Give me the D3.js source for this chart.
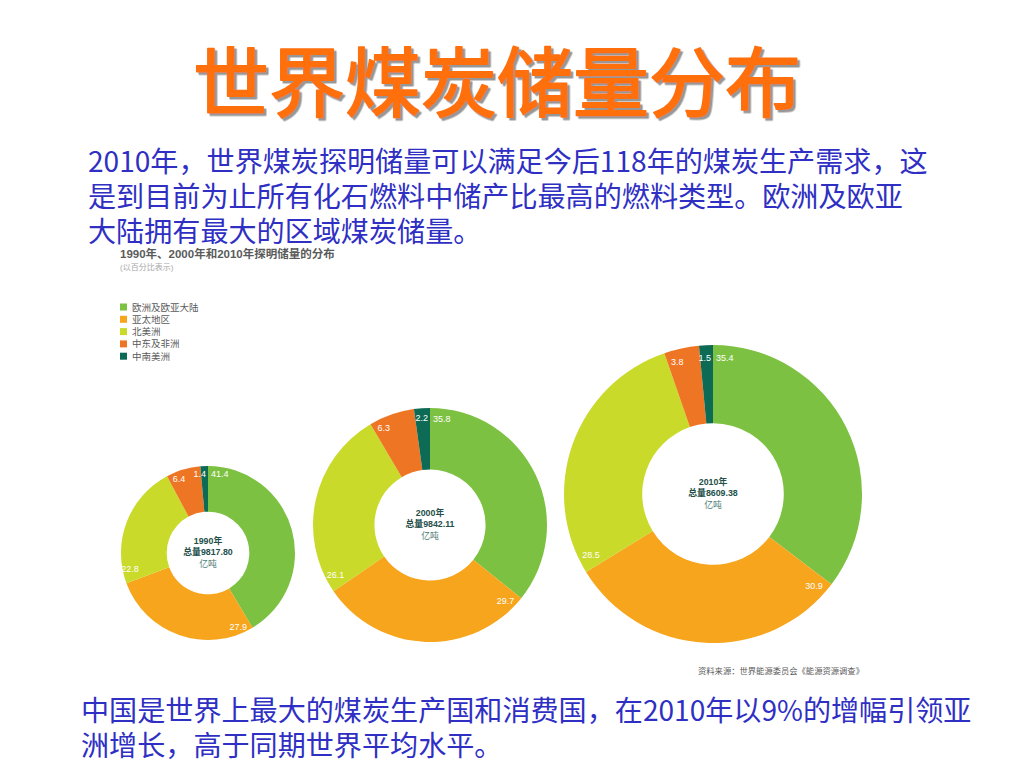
<!DOCTYPE html>
<html>
<head>
<meta charset="utf-8">
<script src="https://d3js.org/d3.v7.min.js"></script>
<style>
    body { margin: 0; background: #ffffff; }
    svg text { font-family: "Liberation Sans", "Noto Sans CJK SC", sans-serif; }
</style>
</head>
<body>
<svg id="canvas" width="1024" height="768"></svg>
<script>
    const svg = d3.select('#canvas');
    const CJK = '"Noto Sans CJK SC", sans-serif';

    //data (percent share per region)
    const regions = ['欧洲及欧亚大陆', '亚太地区', '北美洲', '中东及非洲', '中南美洲'];
    const regionColors = ['#7dc142', '#f7a51d', '#c9da2a', '#ee7523', '#0d6b55'];
    const years = ['1990年', '2000年', '2010年'];
    const totals = ['9817.80', '9842.11', '8609.38'];
    const share1990 = [41.4, 27.9, 22.8, 6.4, 1.4];
    const share2000 = [35.8, 29.7, 26.1, 6.3, 2.2];
    const share2010 = [35.4, 30.9, 28.5, 3.8, 1.5];
    const shares = [share1990, share2000, share2010];

    const introLines = [
        '2010年，世界煤炭探明储量可以满足今后118年的煤炭生产需求，这',
        '是到目前为止所有化石燃料中储产比最高的燃料类型。欧洲及欧亚',
        '大陆拥有最大的区域煤炭储量。'
    ];
    const outroLines = [
        '中国是世界上最大的煤炭生产国和消费国，在2010年以9%的增幅引领亚',
        '洲增长，高于同期世界平均水平。'
    ];

    //layout of the three rings (centre x/y, outer radius)
    const rings = [
        { cx: 208, cy: 553, r: 87 },
        { cx: 430, cy: 525, r: 117 },
        { cx: 713, cy: 494, r: 149 }
    ];
    const HOLE = 0.475;

    //drop shadow for the title
    const defs = svg.append('defs');
    defs.append('filter')
        .attr('id', 'shadow')
        .attr('x', '-5%').attr('y', '-10%').attr('width', '110%').attr('height', '130%')
        .append('feDropShadow')
        .attr('dx', 2.5).attr('dy', 2.5).attr('stdDeviation', 0.6)
        .attr('flood-color', '#8c8c8c').attr('flood-opacity', 0.9);

    svg.append('text')
        .attr('x', 497).attr('y', 78)
        .attr('text-anchor', 'middle').attr('dominant-baseline', 'central')
        .style('font-family', CJK).style('font-weight', 400).style('font-size', '76px')
        .attr('fill', '#ff7011')
        .attr('stroke', '#ff7011').attr('stroke-width', 1.8).attr('stroke-linejoin', 'round')
        .attr('filter', 'url(#shadow)')
        .text('世界煤炭储量分布');

    //intro / closing paragraphs
    svg.selectAll('.intro')
        .data(introLines)
        .join('text')
        .attr('class', 'intro')
        .attr('x', 88)
        .attr('y', (d, i) => 159 + i * 35)
        .attr('dominant-baseline', 'central')
        .style('font-family', CJK).style('font-size', '28.1px')
        .attr('fill', '#2f2fc4')
        .text(d => d);

    svg.selectAll('.outro')
        .data(outroLines)
        .join('text')
        .attr('class', 'outro')
        .attr('x', 81)
        .attr('y', (d, i) => 708 + i * 35)
        .attr('dominant-baseline', 'central')
        .style('font-family', CJK).style('font-size', '28.1px')
        .attr('fill', '#2f2fc4')
        .text(d => d);

    //chart heading
    svg.append('text')
        .attr('x', 120).attr('y', 254)
        .attr('dominant-baseline', 'central')
        .style('font-weight', 700).style('font-size', '11.5px')
        .attr('fill', '#5a5a5a')
        .text('1990年、2000年和2010年探明储量的分布');
    svg.append('text')
        .attr('x', 120).attr('y', 267)
        .attr('dominant-baseline', 'central')
        .style('font-size', '8px')
        .attr('fill', '#a8a8a8')
        .text('(以百分比表示)');

    //legend
    const legend = svg.append('g').attr('transform', 'translate(120,307)');
    const legendRows = legend.selectAll('g')
        .data(regions)
        .join('g')
        .attr('transform', (d, i) => `translate(0,${i * 12.3})`);
    legendRows.append('rect')
        .attr('x', 0).attr('y', -3.5)
        .attr('width', 7).attr('height', 7)
        .attr('fill', (d, i) => regionColors[i]);
    legendRows.append('text')
        .attr('x', 12).attr('y', 0)
        .attr('dominant-baseline', 'central')
        .style('font-size', '9.5px')
        .attr('fill', '#5a5a5a')
        .text(d => d);

    //rings
    const pie = d3.pie().sort(null).value(d => d);

    shares.forEach((values, k) => {
        const ring = rings[k];
        const g = svg.append('g').attr('transform', `translate(${ring.cx},${ring.cy})`);
        const arc = d3.arc().innerRadius(ring.r * HOLE).outerRadius(ring.r);
        const arcs = pie(values);

        g.selectAll('path')
            .data(arcs)
            .join('path')
            .attr('d', arc)
            .attr('fill', (d, i) => regionColors[i]);

        //value labels: wide slices get the label just after their start,
        //thin slices get it tucked against their end
        const rl = ring.r * 0.915;
        g.selectAll('.val')
            .data(arcs)
            .join('text')
            .attr('class', 'val')
            .attr('text-anchor', 'middle')
            .attr('dominant-baseline', 'central')
            .style('font-size', '9px')
            .attr('fill', '#ffffff')
            .text(d => d.data.toFixed(1))
            .each(function (d) {
                const half = this.getComputedTextLength() / 2;
                const span = (d.endAngle - d.startAngle) * rl;
                const a = span < 30
                    ? d.endAngle - (half + 2) / rl
                    : d.startAngle + (half + 3) / rl;
                d3.select(this)
                    .attr('x', rl * Math.sin(a))
                    .attr('y', -rl * Math.cos(a));
            });

        //centre text
        const centre = [years[k], '总量' + totals[k], '亿吨'];
        g.selectAll('.ctr')
            .data(centre)
            .join('text')
            .attr('class', 'ctr')
            .attr('x', 0)
            .attr('y', (d, i) => (i - 1) * 11.5 - 1)
            .attr('text-anchor', 'middle')
            .attr('dominant-baseline', 'central')
            .style('font-size', '8.8px')
            .style('font-weight', (d, i) => i < 2 ? 700 : 400)
            .attr('fill', (d, i) => i < 2 ? '#244f49' : '#4a7d75')
            .text(d => d);
    });

    //source note
    svg.append('text')
        .attr('x', 698).attr('y', 671)
        .attr('dominant-baseline', 'central')
        .style('font-size', '8.3px')
        .attr('fill', '#5a5a5a')
        .text('资料来源：世界能源委员会《能源资源调查》');
</script>
</body>
</html>
